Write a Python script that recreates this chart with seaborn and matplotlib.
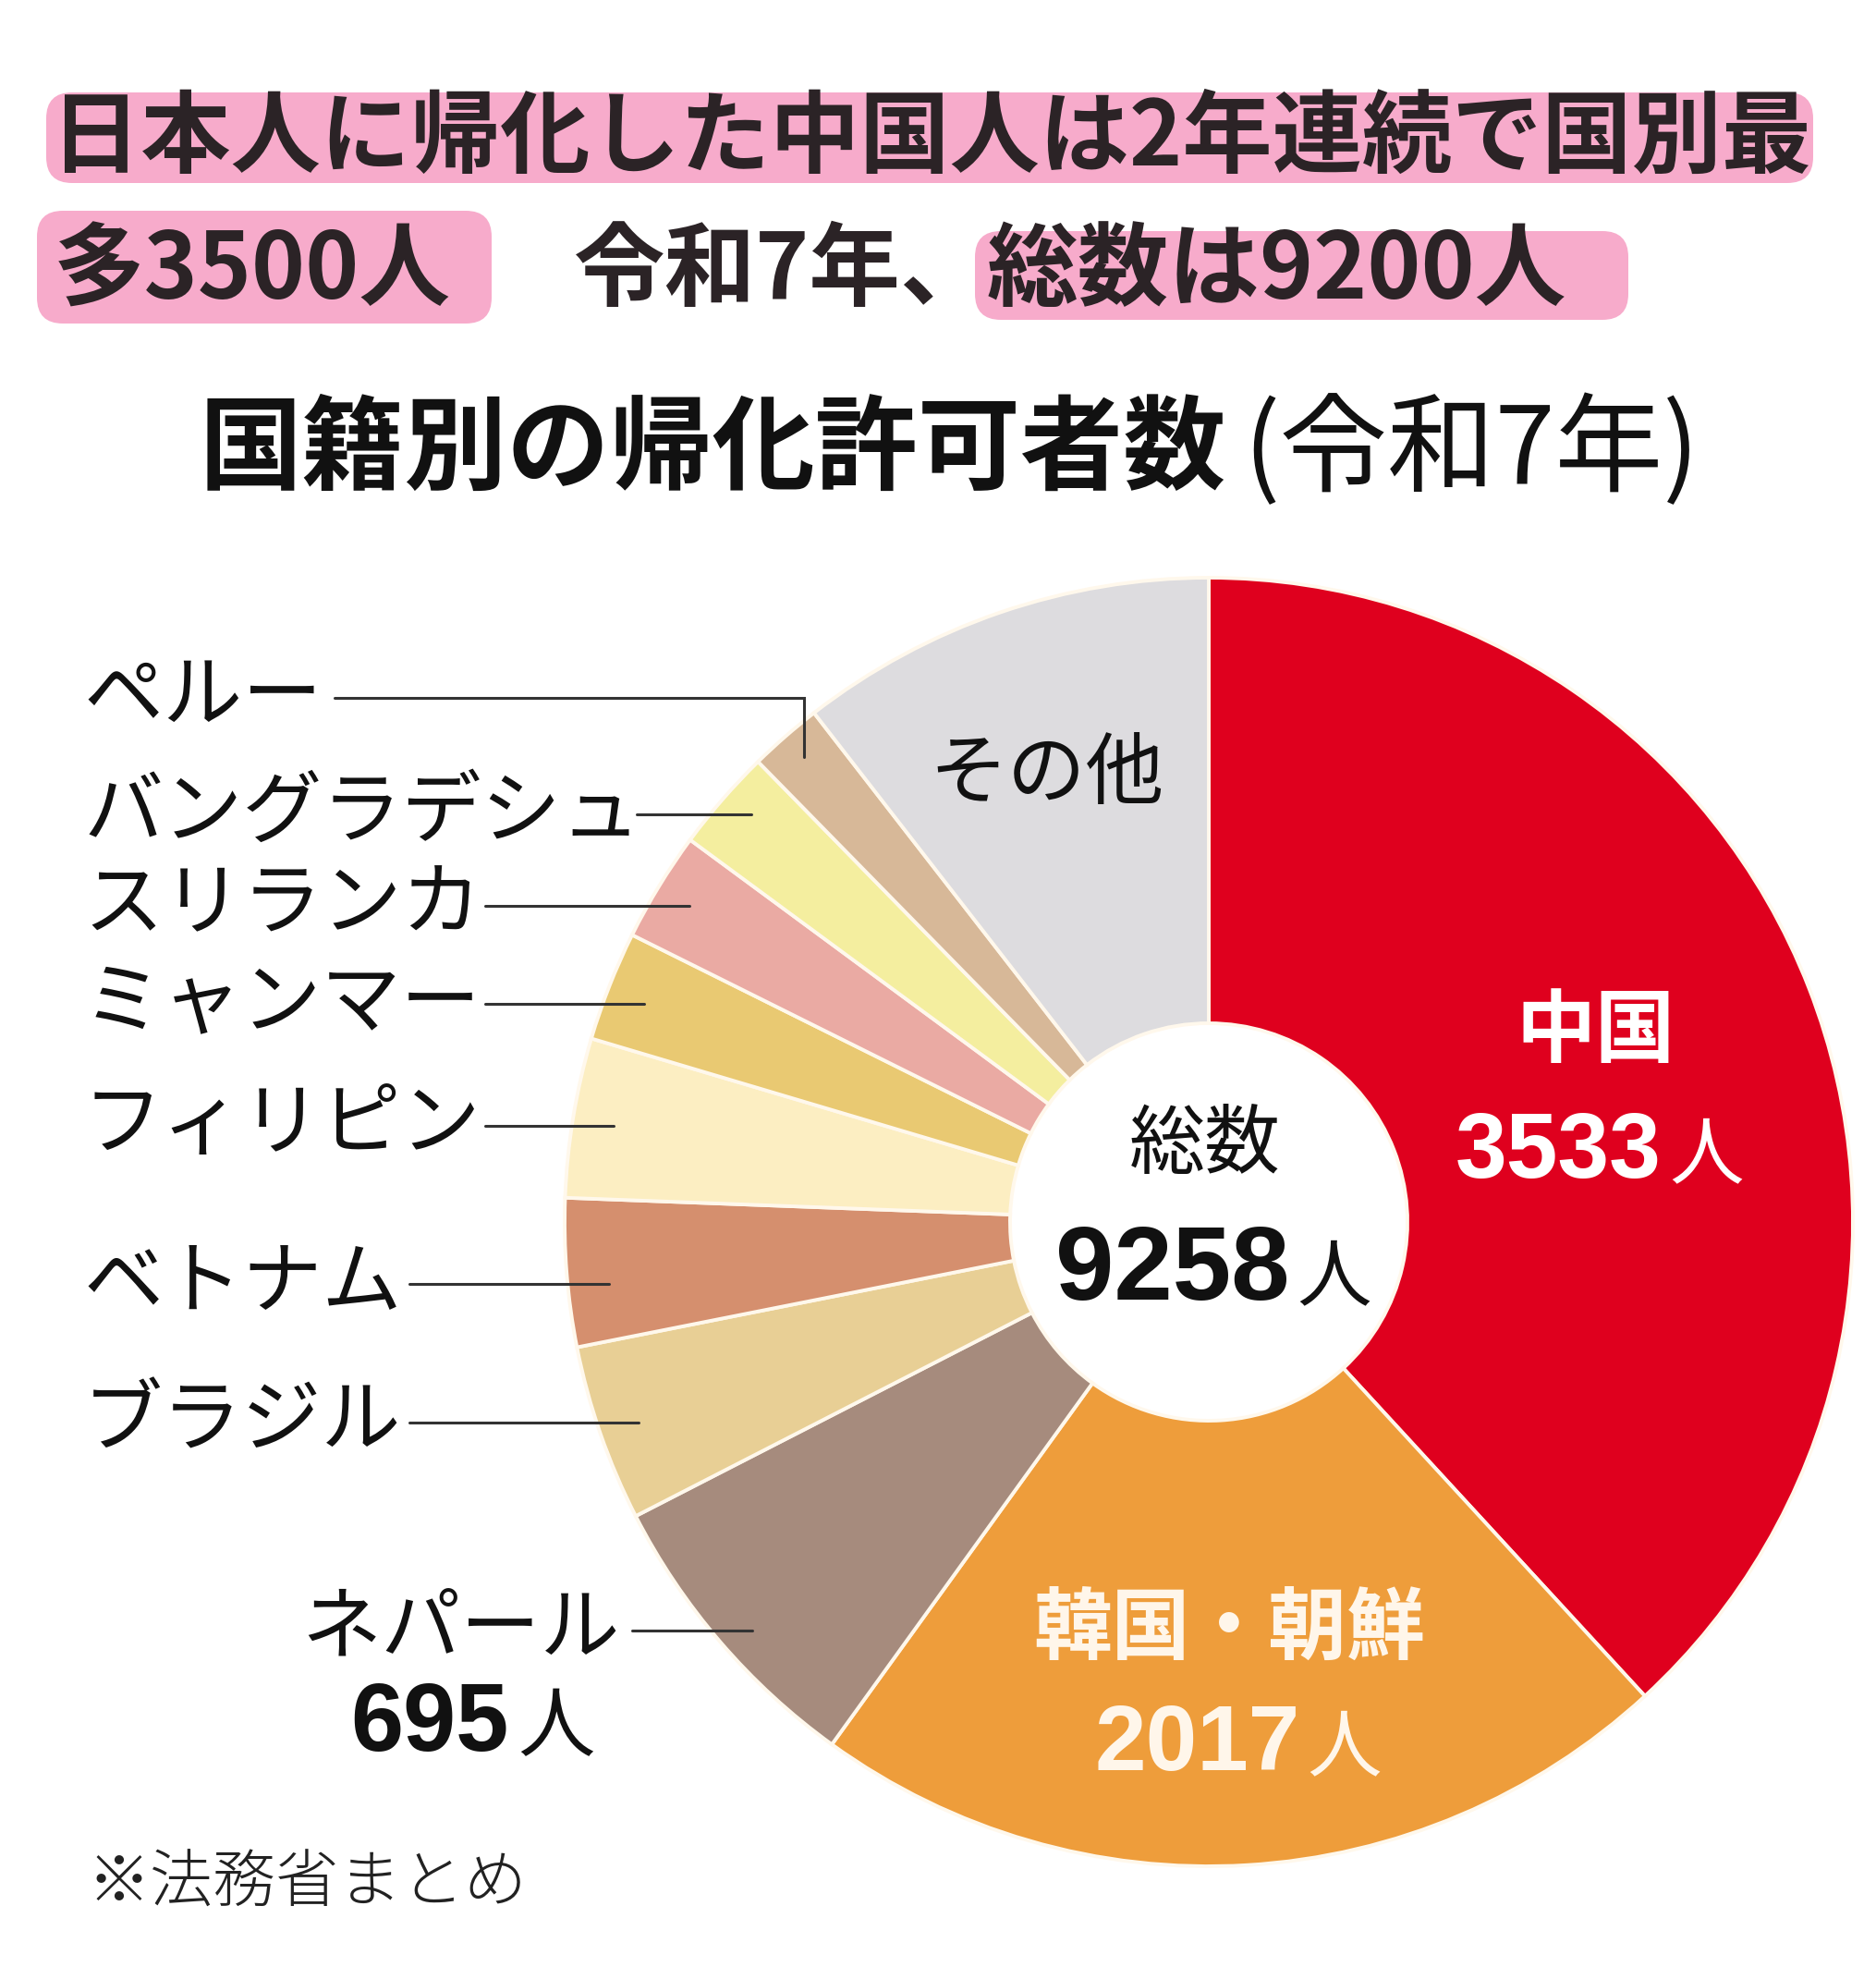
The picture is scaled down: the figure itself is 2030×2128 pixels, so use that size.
import numpy as np
import matplotlib
matplotlib.use('Agg')
import matplotlib.pyplot as plt
from matplotlib.patches import FancyBboxPatch
import seaborn as sns

# data (令和7年 国籍別の帰化許可者数)
countries = ['中国', '韓国・朝鮮', 'ネパール', 'ブラジル', 'ベトナム', 'フィリピン',
             'ミャンマー', 'スリランカ', 'バングラデシュ', 'ペルー', 'その他']
counts = [3533, 2017, 695, 410, 344, 370, 255, 255, 237, 170, 972]
total = 9258
slice_colors = ['#DF001E', '#EE9D3B', '#A68B7D', '#E8CF95', '#D58F6E', '#FCEEC2',
                '#E9C972', '#EAAAA3', '#F4EE9F', '#D7B898', '#DDDCDF']

headline1 = '日本人に帰化した中国人は2年連続で国別最'
headline2 = ['多3500人', '令和7年、', '総数は9200人']
title_main = '国籍別の帰化許可者数'
title_sub = '(令和7年)'
source = '※法務省まとめ'

sns.set_theme(style='white')
plt.rcParams['font.family'] = ['Noto Sans CJK JP', 'DejaVu Sans']
NUM = ['Liberation Sans', 'Noto Sans CJK JP']

W, H = 2030, 2128
fig = plt.figure(figsize=(W / 100, H / 100), dpi=100)
ax = fig.add_axes([0, 0, 1, 1])
ax.set_xlim(0, W)
ax.set_ylim(0, H)
ax.axis('off')

def Y(y):
    return H - y

ink = '#2b2326'
pink = '#F7ABCB'

# highlighter strokes
for x0, y0, x1, y1 in [(50, 100, 1962, 198), (40, 228, 532, 350), (1055, 250, 1762, 346)]:
    ax.add_patch(FancyBboxPatch((x0, Y(y1)), x1 - x0, y1 - y0,
                                boxstyle='round,pad=0,rounding_size=28',
                                fc=pink, ec='none', zorder=1))

ax.text(55, Y(150), headline1, fontsize=70, fontweight='bold', color=ink,
        ha='left', va='center', zorder=2)
for x, s in zip([58, 621, 1068], headline2):
    ax.text(x, Y(294), s, fontsize=71, fontweight='bold', color=ink,
            ha='left', va='center', zorder=2)

# chart title: bold main part + lighter parenthesis
t1 = ax.text(216, Y(489), title_main, fontsize=80, fontweight='bold', color='#111111',
             ha='left', va='center')
fig.canvas.draw()
bb = t1.get_window_extent()
ax.text(bb.x1 + 18, Y(489), title_sub, fontsize=84, color='#111111',
        ha='left', va='center')

# donut
cx, cy, r = 1308, 1322, 697
hole = 215
wedges, _ = ax.pie(counts, colors=slice_colors, startangle=90, counterclock=False,
                   center=(cx, Y(cy)), radius=r,
                   wedgeprops=dict(width=r - hole, edgecolor='#FFF8EC', linewidth=2.8))
ax.set_xlim(0, W)
ax.set_ylim(0, H)
ax.set_aspect('equal')

# texts inside slices
white = '#FFFFFF'
ax.text(1727, Y(1117), countries[0], fontsize=62, fontweight='bold', color=white,
        ha='center', va='center')
ax.text(1798, Y(1274), f'{counts[0]}', fontsize=72, fontweight='bold', color=white,
        family=NUM, ha='right', va='baseline')
ax.text(1806, Y(1274), '人', fontsize=58, color=white, ha='left', va='baseline')

ax.text(1330, Y(1762), countries[1], fontsize=61, fontweight='bold', color='#FFF6EA',
        ha='center', va='center')
ax.text(1407, Y(1915), f'{counts[1]}', fontsize=72, fontweight='bold', color='#FFF6EA',
        family=NUM, ha='right', va='baseline')
ax.text(1414, Y(1915), '人', fontsize=58, color='#FFF6EA', ha='left', va='baseline')

ax.text(1133, Y(839), countries[-1], fontsize=61, color='#111111',
        ha='center', va='center')

# center of donut
ax.text(1304, Y(1239), '総数', fontsize=59, color='#111111', ha='center', va='center')
ax.text(1396, Y(1406), f'{total}', fontsize=82, fontweight='bold', color='#111111',
        family=NUM, ha='right', va='baseline')
ax.text(1403, Y(1406), '人', fontsize=58, color='#111111', ha='left', va='baseline')

# left labels with leader lines
line_c = '#333333'
left_labels = [(2, 1764), (3, 1539), (4, 1389), (5, 1218), (6, 1086), (7, 980), (8, 881)]
line_start = {2: 684, 3: 443, 4: 443, 5: 525, 6: 525, 7: 525, 8: 689}
for i, yl in left_labels:
    dy = cy - yl
    x_end = cx - np.sqrt(r ** 2 - dy ** 2) + 45
    ax.plot([line_start[i], x_end], [Y(yl), Y(yl)], color=line_c, lw=2.2,
            solid_capstyle='round')
    if i == 2:
        ax.text(671, Y(yl), countries[i], fontsize=62, color='#111111',
                ha='right', va='center')
    else:
        ax.text(90, Y(yl), countries[i], fontsize=62, color='#111111',
                ha='left', va='center')

# Peru: elbow leader
yp = 755
mid = np.deg2rad(90 + 360 * sum(counts[-2:]) / total - 360 * counts[-2] / total / 2)
px = cx + (r - 30) * np.cos(mid)
py = cy - (r - 30) * np.sin(mid)
ax.plot([362, px, px], [Y(yp), Y(yp), Y(py)], color=line_c, lw=2.2,
        solid_capstyle='round', solid_joinstyle='miter')
ax.text(90, Y(yp), countries[9], fontsize=62, color='#111111', ha='left', va='center')

# Nepal count
ax.text(551, Y(1894), f'{counts[2]}', fontsize=74, fontweight='bold', color='#111111',
        family=NUM, ha='right', va='baseline')
ax.text(560, Y(1894), '人', fontsize=60, color='#111111', ha='left', va='baseline')

ax.text(95, Y(2039), source, fontsize=49, fontweight='light', color='#222222',
        ha='left', va='center')

fig.savefig('out.png', dpi=100, facecolor='white')
